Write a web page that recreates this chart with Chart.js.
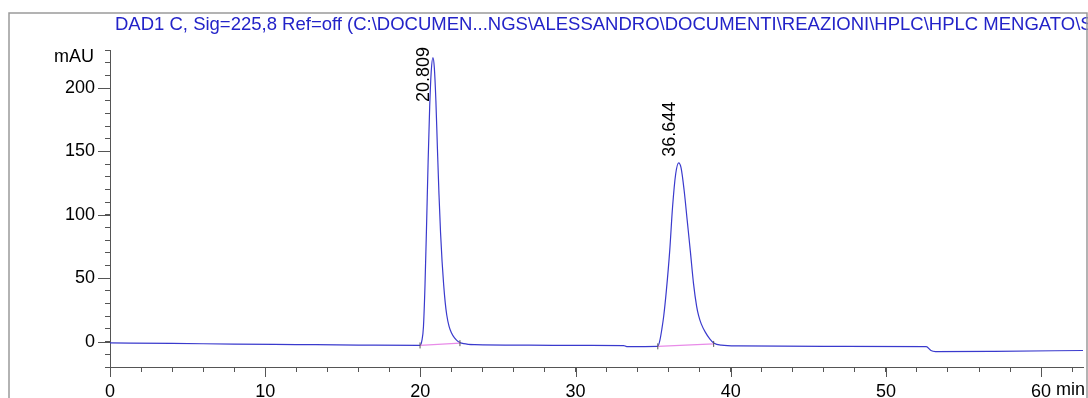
<!DOCTYPE html>
<html>
<head>
<meta charset="utf-8">
<script src="https://cdn.jsdelivr.net/npm/chart.js@4"></script>
<style>
  html, body { margin: 0; padding: 0; background: #fff; }
  #wrap { width: 1088px; height: 398px; position: relative; }
</style>
</head>
<body>
<div id="wrap"><canvas id="chrom"></canvas></div>
<script>
// DAD1 C signal, retention time (min) vs absorbance (mAU)
const signalTitle = "DAD1 C, Sig=225,8 Ref=off (C:\\DOCUMEN...NGS\\ALESSANDRO\\DOCUMENTI\\REAZIONI\\HPLC\\HPLC MENGATO\\S";

const xTickLabels = [0, 10, 20, 30, 40, 50, 60];
const yTickLabels = [0, 50, 100, 150, 200];

const peakTimes = [20.809, 36.644];
const peakHeights = [224, 141];

// integration baseline for each peak (start / end)
const intStart = [19.98, 35.3];
const intStartVal = [-3.0, -3.7];
const intEnd = [22.55, 38.9];
const intEndVal = [-1.2, -1.8];

const traceTime = [
  0, 4, 8, 12, 16, 19.98,
  20.1, 20.2, 20.3, 20.4, 20.5, 20.6, 20.7, 20.809, 20.9, 21.0, 21.1, 21.2, 21.3, 21.4,
  21.5, 21.6, 21.7, 21.85, 22.0, 22.2, 22.45, 22.8, 23.5,
  27, 31, 33.1, 33.3, 35.3,
  35.45, 35.55, 35.68, 35.85, 36.07, 36.25, 36.45, 36.644, 36.8, 37.0, 37.2, 37.4,
  37.6, 37.8, 37.93, 38.1, 38.36, 38.66, 38.9, 39.4,
  40.5, 46, 52.6, 52.9, 53.2, 57, 62.7
];
const traceMAU = [
  -1.0, -1.4, -1.9, -2.3, -2.7, -3.0,
  1, 12, 45, 92, 142, 185, 213, 224, 216, 190, 152, 116, 86, 63,
  45, 31, 21, 12, 7, 3, 0, -1.6, -2.4,
  -2.8, -3.0, -3.1, -3.9, -3.7,
  2, 9, 20, 40, 72, 106, 132, 141, 137, 119, 95, 71,
  46, 28, 20.5, 14, 7.5, 2, -1, -2.8,
  -3.4, -3.7, -4.0, -7.0, -7.8, -7.6, -7.0
];

const FONT = '"Liberation Sans", Arial, sans-serif';

const isOnList = (v, list) => Math.abs(v - Math.round(v)) < 1e-6 && list.includes(Math.round(v));

// frame, title, unit labels, long major ticks and rotated peak labels
const decorations = {
  id: 'decorations',
  afterDraw(chart) {
    const ctx = chart.ctx;
    const xs = chart.scales.x, ys = chart.scales.y;
    const area = chart.chartArea;
    ctx.save();

    // major ticks
    ctx.strokeStyle = '#555';
    ctx.lineWidth = 1;
    ctx.beginPath();
    xTickLabels.forEach(v => {
      const px = Math.round(xs.getPixelForValue(v)) + 0.5;
      ctx.moveTo(px, area.bottom);
      ctx.lineTo(px, area.bottom + 10);
    });
    yTickLabels.forEach(v => {
      const py = Math.round(ys.getPixelForValue(v)) + 0.5;
      ctx.moveTo(area.left - 12, py);
      ctx.lineTo(area.left, py);
    });
    ctx.stroke();

    ctx.fillStyle = '#000';
    ctx.font = '18px ' + FONT;

    // unit labels
    ctx.textAlign = 'right';
    ctx.textBaseline = 'middle';
    ctx.fillText('mAU', 94, ys.getPixelForValue(ys.max) + 7);
    ctx.textAlign = 'left';
    ctx.textBaseline = 'top';
    const w60 = ctx.measureText('60').width;
    ctx.fillText(' min', xs.getPixelForValue(60) + w60 / 2, area.bottom + 14);

    // retention time labels, rotated
    peakTimes.forEach((t, i) => {
      const label = t.toFixed(3);
      const tw = ctx.measureText(label).width;
      const px = xs.getPixelForValue(t);
      const py = ys.getPixelForValue(peakHeights[i]);
      const bottom = Math.max(py - 6, area.top - 3 + tw);
      ctx.save();
      ctx.translate(px - 4, bottom);
      ctx.rotate(-Math.PI / 2);
      ctx.textAlign = 'left';
      ctx.textBaseline = 'alphabetic';
      ctx.fillText(label, 0, 0);
      ctx.restore();
    });

    // signal title
    ctx.fillStyle = '#2323c8';
    ctx.font = '18.5px ' + FONT;
    ctx.textAlign = 'left';
    ctx.textBaseline = 'alphabetic';
    ctx.fillText(signalTitle, 115, 30);

    // outer frame
    ctx.strokeStyle = '#9a9a9a';
    ctx.lineWidth = 1.5;
    ctx.beginPath();
    ctx.moveTo(9, 420);
    ctx.lineTo(9, 13);
    ctx.lineTo(1087, 13);
    ctx.lineTo(1087, 420);
    ctx.stroke();

    ctx.restore();
  }
};

const datasets = [{
  data: traceTime.map((t, i) => ({ x: t, y: traceMAU[i] })),
  borderColor: '#3a3acd',
  borderWidth: 1.2,
  pointRadius: 0,
  cubicInterpolationMode: 'monotone',
  order: 2
}];

intStart.forEach((t, i) => {
  datasets.push({
    data: [{ x: t, y: intStartVal[i] }, { x: intEnd[i], y: intEndVal[i] }],
    borderColor: '#e88be8',
    borderWidth: 1.2,
    pointStyle: 'line',
    rotation: 90,
    pointRadius: 3,
    pointBorderColor: '#555',
    pointBorderWidth: 1,
    order: 1
  });
});

new Chart(document.getElementById('chrom'), {
  type: 'line',
  data: { datasets },
  plugins: [decorations],
  options: {
    responsive: true,
    maintainAspectRatio: false,
    animation: false,
    layout: { padding: { top: 50, right: 0, bottom: 0, left: 0 } },
    plugins: { legend: { display: false }, tooltip: { enabled: false } },
    scales: {
      x: {
        type: 'linear',
        min: 0,
        max: 62.7,
        afterFit: s => { s.height = 31; },
        border: { color: '#555', width: 1 },
        grid: { drawOnChartArea: false, tickLength: 5, color: '#555' },
        ticks: {
          stepSize: 2,
          autoSkip: false,
          includeBounds: false,
          maxRotation: 0,
          padding: 9,
          color: '#000',
          font: { family: FONT, size: 18 },
          callback: v => isOnList(v, xTickLabels) ? String(Math.round(v)) : ''
        }
      },
      y: {
        min: -20,
        max: 230,
        afterFit: s => { s.width = 110; },
        border: { color: '#555', width: 1 },
        grid: { drawOnChartArea: false, tickLength: 5, color: '#555' },
        ticks: {
          stepSize: 10,
          autoSkip: false,
          padding: 10,
          color: '#000',
          font: { family: FONT, size: 18 },
          callback: v => isOnList(v, yTickLabels) ? String(Math.round(v)) : ''
        }
      }
    }
  }
});
</script>
</body>
</html>
